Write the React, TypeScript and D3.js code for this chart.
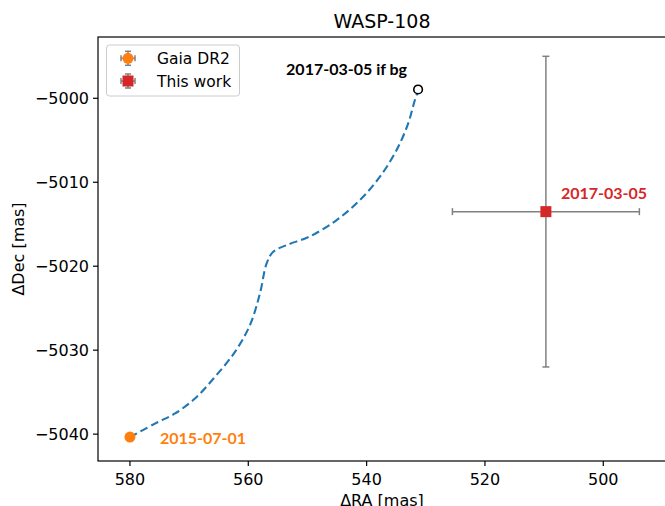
import React from "react";
import * as d3 from "d3";

const title = "WASP-108";
const xLabel = "ΔRA [mas]";
const yLabel = "ΔDec [mas]";
const xTicks = [580, 560, 540, 520, 500];
const yTicks = [-5000, -5010, -5020, -5030, -5040];

// background track (ΔRA, ΔDec)
const trackRA = [580.0, 575.77, 572.39, 569.01, 565.63, 562.25, 559.72, 558.03, 556.9, 555.78, 553.51, 549.58, 545.07, 541.13, 537.75, 534.93, 532.97, 531.84, 531.28];
const trackDec = [-5040.37, -5038.74, -5037.54, -5035.76, -5033.18, -5030.2, -5027.02, -5023.24, -5019.67, -5018.28, -5017.48, -5016.45, -5014.51, -5012.12, -5009.34, -5006.16, -5002.98, -5000.2, -4999.1];

const gaia = { ra: 580.0, dec: -5040.35, raErr: 0.1, decErr: 0.1, label: "2015-07-01" };
const thisWork = { ra: 509.7, dec: -5013.5, raErr: 15.8, decErr: 18.5, label: "2017-03-05" };
const bgPoint = { ra: 531.3, dec: -4998.95, label: "2017-03-05 if bg" };
const legendNames = ["Gaia DR2", "This work"];

const W = 665, H = 506;
const L = 98, R = 666, T = 37, B = 461;

export default function App() {
  const x = d3.scaleLinear().domain([585.4, 489.4]).range([L, R]);
  const y = d3.scaleLinear().domain([-4992.7, -5043.2]).range([T, B]);
  const pts: [number, number][] = trackRA.map((r, i) => [r, trackDec[i]]);
  const line = d3.line<[number, number]>().x(d => x(d[0])).y(d => y(d[1])).curve(d3.curveCatmullRom.alpha(0.5));
  const ebColor = "#808080";
  const font = "DejaVu Sans, sans-serif";
  const boldFont = "Lato, 'Open Sans', sans-serif";

  const errorBar = (p: { ra: number; dec: number; raErr: number; decErr: number }, cap: number) => (
    <g stroke={ebColor} strokeWidth={1.5}>
      <line x1={x(p.ra + p.raErr)} x2={x(p.ra - p.raErr)} y1={y(p.dec)} y2={y(p.dec)} />
      <line x1={x(p.ra)} x2={x(p.ra)} y1={y(p.dec + p.decErr)} y2={y(p.dec - p.decErr)} />
      <line x1={x(p.ra + p.raErr)} x2={x(p.ra + p.raErr)} y1={y(p.dec) - cap} y2={y(p.dec) + cap} />
      <line x1={x(p.ra - p.raErr)} x2={x(p.ra - p.raErr)} y1={y(p.dec) - cap} y2={y(p.dec) + cap} />
      <line x1={x(p.ra) - cap} x2={x(p.ra) + cap} y1={y(p.dec + p.decErr)} y2={y(p.dec + p.decErr)} />
      <line x1={x(p.ra) - cap} x2={x(p.ra) + cap} y1={y(p.dec - p.decErr)} y2={y(p.dec - p.decErr)} />
    </g>
  );

  const legendMarker = (i: number, cx: number, cy: number) => (
    <g key={i}>
      <g stroke={ebColor} strokeWidth={1.5}>
        <line x1={cx - 7} x2={cx + 7} y1={cy} y2={cy} />
        <line x1={cx} x2={cx} y1={cy - 7} y2={cy + 7} />
        <line x1={cx - 7} x2={cx - 7} y1={cy - 3} y2={cy + 3} />
        <line x1={cx + 7} x2={cx + 7} y1={cy - 3} y2={cy + 3} />
        <line x1={cx - 3} x2={cx + 3} y1={cy - 7} y2={cy - 7} />
        <line x1={cx - 3} x2={cx + 3} y1={cy + 7} y2={cy + 7} />
      </g>
      {i === 0 ? (
        <circle cx={cx} cy={cy} r={5.5} fill="#ff7f0e" />
      ) : (
        <rect x={cx - 5.5} y={cy - 5.5} width={11} height={11} fill="#d62728" />
      )}
      <text x={157} y={cy + 5.5} fontSize={15.5} fontFamily={font} fill="#000">{legendNames[i]}</text>
    </g>
  );

  return (
    <svg width={W} height={H} style={{ position: "absolute", left: 0, top: 0 }}>
      <rect width={W} height={H} fill="#fff" />
      <text x={(L + R) / 2} y={27.5} textAnchor="middle" fontSize={19} fontFamily={font}>{title}</text>

      <path d={line(pts) || ""} fill="none" stroke="#1f77b4" strokeWidth={2.1} strokeDasharray="8,4" />

      {errorBar(thisWork, 3.5)}
      <rect x={x(thisWork.ra) - 5.5} y={y(thisWork.dec) - 5.5} width={11} height={11} fill="#d62728" />

      {errorBar(gaia, 3.5)}
      <circle cx={x(gaia.ra)} cy={y(gaia.dec)} r={5.5} fill="#ff7f0e" />

      <circle cx={x(bgPoint.ra)} cy={y(bgPoint.dec)} r={4.3} fill="#fff" stroke="#000" strokeWidth={1.6} />

      <text x={x(bgPoint.ra) - 11} y={y(bgPoint.dec) - 14} textAnchor="end" fontSize={16} fontWeight="bold" fontFamily={boldFont} fill="#000">{bgPoint.label}</text>
      <text x={x(thisWork.ra) + 15} y={y(thisWork.dec) - 13} fontSize={16} fontWeight="bold" fontFamily={boldFont} fill="#d62728">{thisWork.label}</text>
      <text x={x(gaia.ra) + 30} y={y(gaia.dec) + 7} fontSize={16} fontWeight="bold" fontFamily={boldFont} fill="#ff7f0e">{gaia.label}</text>

      {/* axes spines */}
      <rect x={L} y={T} width={R - L} height={B - T} fill="none" stroke="#000" strokeWidth={1.2} />

      {xTicks.map(t => (
        <g key={t}>
          <line x1={x(t)} x2={x(t)} y1={B} y2={B + 5} stroke="#000" strokeWidth={1.2} />
          <text x={x(t)} y={484.5} textAnchor="middle" fontSize={16} fontFamily={font}>{t}</text>
        </g>
      ))}
      {yTicks.map(t => (
        <g key={t}>
          <line x1={L - 5} x2={L} y1={y(t)} y2={y(t)} stroke="#000" strokeWidth={1.2} />
          <text x={L - 9} y={y(t) + 6} textAnchor="end" fontSize={16} fontFamily={font}>{"\u2212" + Math.abs(t)}</text>
        </g>
      ))}

      <text x={(L + R) / 2} y={505.5} textAnchor="middle" fontSize={16} fontFamily={font}>{xLabel}</text>
      <text transform={`translate(24, ${(T + B) / 2}) rotate(-90)`} textAnchor="middle" fontSize={16} fontFamily={font}>{yLabel}</text>

      {/* legend */}
      <rect x={106.5} y={45} width={133} height={51} rx={3} fill="#fff" fillOpacity={0.8} stroke="#ccc" strokeWidth={1} />
      {legendMarker(0, 128, 58.3)}
      {legendMarker(1, 128, 81)}
    </svg>
  );
}
